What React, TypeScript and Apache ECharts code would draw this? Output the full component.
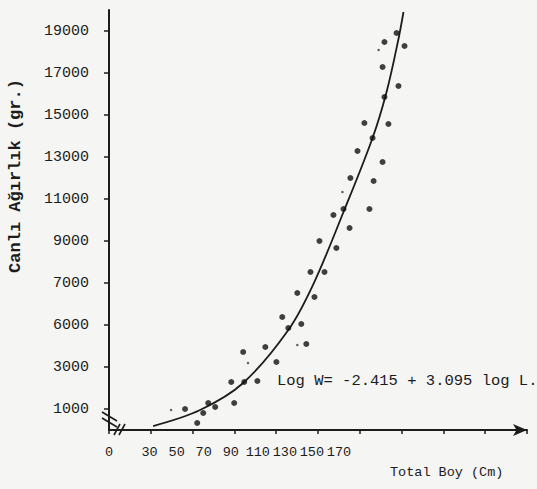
import React, { useEffect, useRef } from "react";
import * as echarts from "echarts";

// Observed fish: Total length (cm) vs live weight (g)
const lengths = [
  147.6, 141.8, 151.4, 140.9, 148.5, 141.8, 132.2, 143.7, 136.1, 128.9,
  140.9, 125.5, 136.6, 122.2, 117.4, 134.6, 125.1, 110.7, 118.8, 106.4,
  113.1, 100.1, 108.3, 92.9, 95.8, 102.0, 104.4, 84.8, 74.2, 90.1,
  68.5, 74.7, 81.0, 69.9, 57.5, 60.8, 55.1, 46.4, 52.2,
];
const weights = [
  18905, 18476, 18286, 17286, 16381, 15857, 14619, 14571, 13905, 13286,
  12762, 12000, 11857, 10524, 10238, 10524, 9619, 9000, 8667, 7524,
  7524, 6524, 6333, 5381, 4857, 5048, 4095, 3952, 3714, 3238,
  2286, 2286, 2333, 1286, 1286, 1095, 810, 1000, 333,
];
// small faint dots
const smallLengths = [39.7, 121.7, 100.1, 76.5, 139.0];
const smallWeights = [952, 11333, 4048, 3190, 18095];

// Fitted curve as drawn (Log W = -2.415 + 3.095 log L)
const curveLengths = [31.1, 53.6, 74.2, 95.8, 107.8, 122.2, 136.1, 142.8, 148.5, 150.9];
const curveWeights = [190, 952, 2238, 4762, 6952, 10381, 13905, 16095, 18619, 19905];

const yTickValues = [1000, 3000, 5000, 7000, 9000, 11000, 13000, 15000, 17000, 19000];
const yTickLabels = ["1000", "3000", "6000", "7000", "9000", "11000", "13000", "15000", "17000", "19000"];
const xTickLabels = [0, 30, 50, 70, 90, 110, 130, 150, 170];

const FONT = "'Liberation Mono', 'DejaVu Sans Mono', monospace";
const INK = "#1c1c1c";

export default function App() {
  const ref = useRef<HTMLDivElement>(null);
  useEffect(() => {
    if (!ref.current) return;
    const chart = echarts.init(ref.current, null, { renderer: "svg" });
    chart.setOption({
      animation: false,
      backgroundColor: "#f5f5f3",
      grid: { left: 109, right: 10, top: 10, bottom: 59, containLabel: false },
      xAxis: [
        {
          type: "value",
          min: 10,
          max: 210,
          interval: 20,
          position: "bottom",
          axisLine: {
            show: true,
            onZero: false,
            symbol: ["none", "arrow"],
            symbolSize: [9, 14],
            lineStyle: { color: INK, width: 2 },
          },
          axisTick: { show: true, length: 4, lineStyle: { color: INK, width: 1.5 } },
          axisLabel: { show: false },
          splitLine: { show: false },
        },
        {
          type: "value",
          min: 0,
          max: 309,
          position: "bottom",
          axisLine: { show: false, onZero: false },
          axisTick: { show: false },
          splitLine: { show: false },
          axisLabel: {
            show: true,
            customValues: xTickLabels,
            margin: 15,
            fontFamily: FONT,
            fontSize: 13.5,
            color: INK,
            formatter: (v: number) => String(v),
          },
        },
      ],
      yAxis: {
        type: "value",
        min: 0,
        max: 20000,
        axisLine: { show: true, lineStyle: { color: INK, width: 2 } },
        axisTick: { show: true, length: 5, customValues: yTickValues, lineStyle: { color: INK, width: 1.5 } },
        splitLine: { show: false },
        axisLabel: {
          show: true,
          customValues: yTickValues,
          margin: 20,
          fontFamily: FONT,
          fontSize: 15,
          color: INK,
          formatter: (v: number) => {
            const i = yTickValues.indexOf(v);
            return i >= 0 ? yTickLabels[i] : "";
          },
        },
      },
      series: [
        {
          type: "line",
          xAxisIndex: 0,
          smooth: 0.35,
          showSymbol: false,
          symbol: "none",
          data: curveLengths.map((x, i) => [x, curveWeights[i]]),
          lineStyle: { color: INK, width: 1.8 },
          z: 2,
        },
        {
          type: "scatter",
          xAxisIndex: 0,
          symbol: "circle",
          symbolSize: 6,
          data: lengths.map((x, i) => [x, weights[i]]),
          itemStyle: { color: "#111" },
          z: 3,
        },
        {
          type: "scatter",
          xAxisIndex: 0,
          symbol: "circle",
          symbolSize: 2.5,
          data: smallLengths.map((x, i) => [x, smallWeights[i]]),
          itemStyle: { color: "#333" },
          z: 3,
        },
      ],
      graphic: [
        {
          type: "text",
          x: 15,
          y: 176,
          rotation: Math.PI / 2,
          style: {
            text: "Canlı Ağırlık (gr.)",
            font: `bold 17px ${FONT}`,
            fill: INK,
            align: "center",
            verticalAlign: "middle",
          },
        },
        {
          type: "text",
          x: 277,
          y: 381,
          style: {
            text: "Log W= -2.415 + 3.095 log L.",
            font: `15.5px ${FONT}`,
            fill: INK,
            align: "left",
            verticalAlign: "middle",
          },
        },
        {
          type: "text",
          x: 390,
          y: 472,
          style: {
            text: "Total Boy (Cm)",
            font: `13.5px ${FONT}`,
            fill: INK,
            align: "left",
            verticalAlign: "middle",
          },
        },
        { type: "line", shape: { x1: 102, y1: 412, x2: 117, y2: 421 }, style: { stroke: INK, lineWidth: 1.6 } },
        { type: "line", shape: { x1: 102, y1: 418, x2: 117, y2: 427 }, style: { stroke: INK, lineWidth: 1.6 } },
        { type: "line", shape: { x1: 114, y1: 435, x2: 120, y2: 424 }, style: { stroke: INK, lineWidth: 1.6 } },
        { type: "line", shape: { x1: 119, y1: 435, x2: 125, y2: 424 }, style: { stroke: INK, lineWidth: 1.6 } },
      ],
    });
    return () => chart.dispose();
  }, []);
  return (
    <div
      ref={ref}
      style={{ position: "fixed", left: 0, top: 0, width: 537, height: 489 }}
    />
  );
}
